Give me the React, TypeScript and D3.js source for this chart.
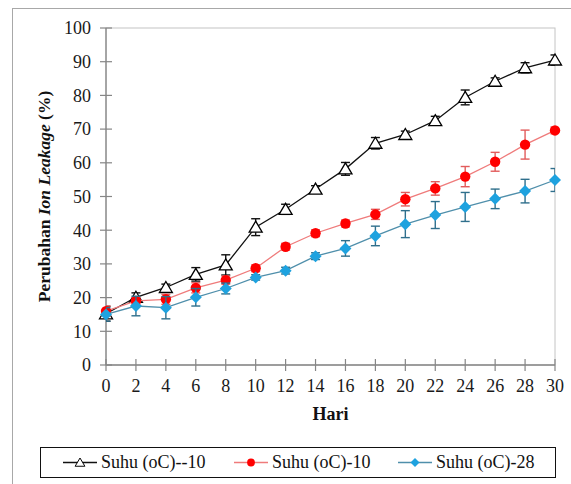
import React from "react";
import * as d3 from "d3";

const days = [0, 2, 4, 6, 8, 10, 12, 14, 16, 18, 20, 22, 24, 26, 28, 30];
const serieMinus10 = [15.2, 20.1, 23.0, 26.9, 29.7, 40.9, 46.2, 52.2, 58.2, 65.8, 68.4, 72.5, 79.4, 84.2, 88.2, 90.5];
const errMinus10 = [2.2, 1.3, 1.0, 2.0, 3.0, 2.5, 1.5, 1.0, 1.9, 1.7, 1.0, 1.3, 2.2, 1.0, 1.5, 1.5];
const serie10 = [16.0, 19.0, 19.5, 22.9, 25.2, 28.7, 35.1, 39.1, 42.0, 44.7, 49.2, 52.4, 55.9, 60.3, 65.4, 69.6];
const err10 = [1.5, 1.0, 1.5, 1.5, 1.2, 1.0, 1.0, 1.0, 1.0, 1.5, 2.0, 2.0, 3.0, 2.8, 4.3, 1.0];
const serie28 = [15.0, 17.5, 17.0, 20.1, 22.7, 26.0, 28.0, 32.3, 34.6, 38.3, 41.8, 44.5, 46.9, 49.3, 51.6, 54.9];
const err28 = [2.0, 2.9, 3.3, 2.6, 1.6, 0.8, 1.0, 1.0, 2.3, 2.9, 4.0, 4.0, 4.3, 2.9, 3.5, 3.4];
const seriesNames = ["Suhu (oC)--10", "Suhu (oC)-10", "Suhu (oC)-28"];
const yTicks = [0, 10, 20, 30, 40, 50, 60, 70, 80, 90, 100];
const xTicks = [0, 2, 4, 6, 8, 10, 12, 14, 16, 18, 20, 22, 24, 26, 28, 30];

const W = 571, H = 484;
const L = 106, R = 555, T = 28, B = 365;
const FONT = '"Times New Roman", "Liberation Serif", serif';
const TS: React.CSSProperties = { fontFamily: FONT };

const x = d3.scaleLinear().domain([0, 30]).range([L, R]);
const y = d3.scaleLinear().domain([0, 100]).range([B, T]);

type Series = { name: string; vals: number[]; errs: number[]; line: string; err: string; kind: string };
const series: Series[] = [
  { name: seriesNames[0], vals: serieMinus10, errs: errMinus10, line: "#111", err: "#111", kind: "tri" },
  { name: seriesNames[1], vals: serie10, errs: err10, line: "#ef7b7b", err: "#e25c5c", kind: "circ" },
  { name: seriesNames[2], vals: serie28, errs: err28, line: "#4f8fab", err: "#2f6f8c", kind: "dia" },
];

function Marker({ kind, cx, cy }: { kind: string; cx: number; cy: number }) {
  if (kind === "tri") {
    const p = d3.path();
    p.moveTo(cx, cy - 6);
    p.lineTo(cx + 6.5, cy + 5);
    p.lineTo(cx - 6.5, cy + 5);
    p.closePath();
    return <path d={p.toString()} fill="#fff" stroke="#000" strokeWidth={1.3} />;
  }
  if (kind === "circ") return <circle cx={cx} cy={cy} r={5.2} fill="#ff0000" />;
  const p = d3.path();
  p.moveTo(cx, cy - 6);
  p.lineTo(cx + 6, cy);
  p.lineTo(cx, cy + 6);
  p.lineTo(cx - 6, cy);
  p.closePath();
  return <path d={p.toString()} fill="#1ea2df" />;
}

export default function App() {
  const line = d3.line<number>().x((_, i) => x(days[i])).y((v) => y(v));
  return (
    <svg width={W} height={H} style={{ position: "absolute", left: 0, top: 0, background: "#fff", fontFamily: FONT }}>
      <defs>
        <clipPath id="plotClip">
          <rect x={L} y={T - 10} width={R - L} height={B - T + 20} />
        </clipPath>
      </defs>
      <rect x={0} y={0} width={W} height={H} fill="#fff" />
      <rect x={12.5} y={8.5} width={W + 20} height={H + 20} fill="none" stroke="#a8a8a8" strokeWidth={1} />
      <rect x={L} y={T} width={R - L} height={B - T} fill="none" stroke="#c4c4c4" strokeWidth={1} />
      <line x1={L} x2={L} y1={T} y2={B} stroke="#868686" strokeWidth={1.3} />
      <line x1={L} x2={R} y1={B} y2={B} stroke="#868686" strokeWidth={1.3} />
      {yTicks.map((t) => (
        <g key={"y" + t}>
          <line x1={L - 6} x2={L + 6} y1={y(t)} y2={y(t)} stroke="#868686" strokeWidth={1.2} />
          <text x={91} y={y(t)} dy="0.35em" textAnchor="end" fontSize={18} fill="#1a1a1a" style={TS}>{t}</text>
        </g>
      ))}
      {xTicks.map((t) => (
        <g key={"x" + t}>
          <line x1={x(t)} x2={x(t)} y1={B - 6} y2={B + 6} stroke="#868686" strokeWidth={1.2} />
          <text x={x(t)} y={392} textAnchor="middle" fontSize={18} fill="#1a1a1a" style={TS}>{t}</text>
        </g>
      ))}
      <text x={(L + R) / 2} y={420} textAnchor="middle" fontSize={18} fontWeight="bold" fill="#111" style={TS}>Hari</text>
      <text transform={`translate(50,${(T + B) / 2}) rotate(-90)`} textAnchor="middle" fontSize={17.5} fontWeight="bold" fill="#111" style={TS}>
        Perubahan <tspan fontStyle="italic">Ion Leakage</tspan> (%)
      </text>
      {series.map((s) => (
        <g key={s.name}>
          <g clipPath="url(#plotClip)">
            {s.vals.map((v, i) => {
              const cx = x(days[i]);
              const y1 = y(v + s.errs[i]);
              const y2 = y(v - s.errs[i]);
              return (
                <g key={i} stroke={s.err} strokeWidth={1.4}>
                  <line x1={cx} x2={cx} y1={y1} y2={y2} />
                  <line x1={cx - 4.5} x2={cx + 4.5} y1={y1} y2={y1} />
                  <line x1={cx - 4.5} x2={cx + 4.5} y1={y2} y2={y2} />
                </g>
              );
            })}
          </g>
          <path d={line(s.vals) || ""} fill="none" stroke={s.line} strokeWidth={1.3} />
          {s.vals.map((v, i) => (
            <Marker key={i} kind={s.kind} cx={x(days[i])} cy={y(v)} />
          ))}
        </g>
      ))}
      <rect x={40.5} y={447.5} width={515} height={30} fill="#fff" stroke="#111" strokeWidth={1} />
      {series.map((s, i) => {
        const x0 = [63, 234, 398][i];
        const ly = 462.5;
        return (
          <g key={"lg" + i}>
            <line x1={x0} x2={x0 + 34} y1={ly} y2={ly} stroke={s.line} strokeWidth={1.3} />
            <g transform={`translate(${x0 + 17},${ly}) scale(0.75)`}>
              <Marker kind={s.kind} cx={0} cy={0} />
            </g>
            <text x={x0 + 38} y={ly} dy="0.33em" fontSize={18} fill="#111" style={TS}>{s.name}</text>
          </g>
        );
      })}
    </svg>
  );
}
